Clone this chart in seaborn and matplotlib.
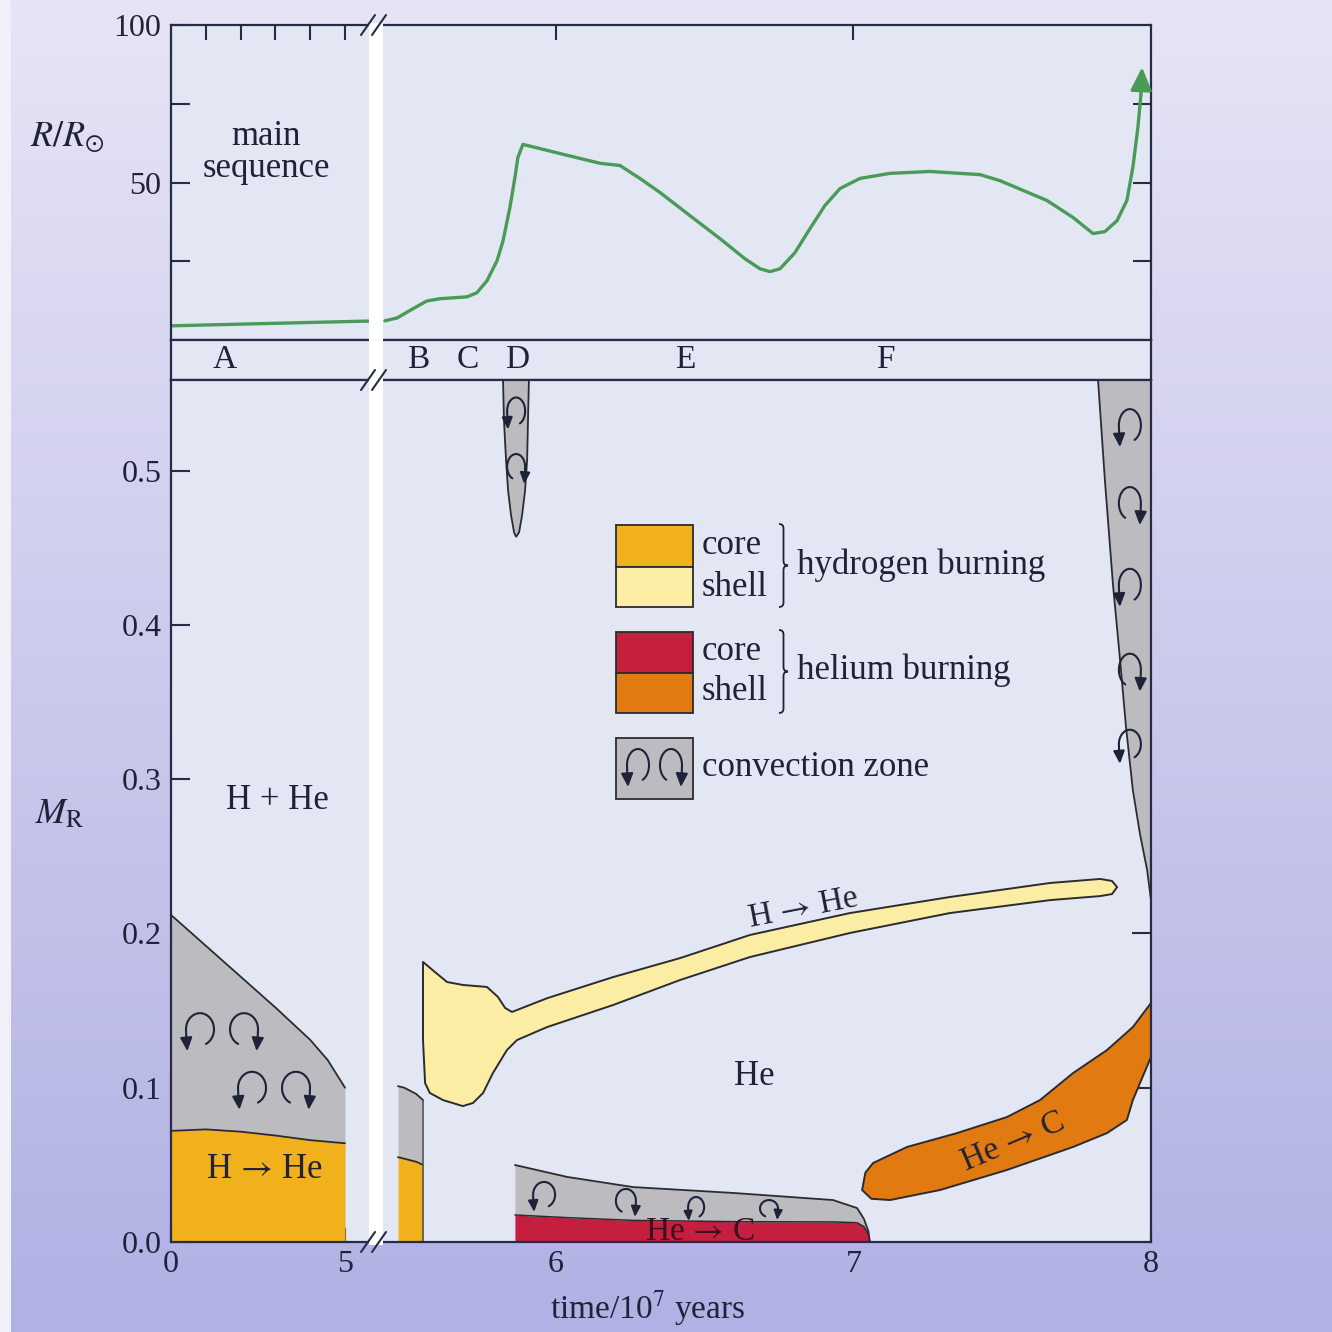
import numpy as np
import matplotlib
matplotlib.use("Agg")
import matplotlib.pyplot as plt
import seaborn as sns
from matplotlib.patches import FancyArrowPatch, Rectangle, PathPatch
from matplotlib.path import Path
from matplotlib.transforms import ScaledTranslation

# ---------------------------------------------------------------- data
# stellar radius R/R_sun against time (units of 10^7 years)
t_ms = [0.0, 1.5, 3.0, 4.5, 5.66]
r_ms = [4.5, 4.9, 5.3, 5.7, 6.0]
t_giant = [5.425, 5.466, 5.519, 5.566, 5.610, 5.701, 5.734, 5.768, 5.802, 5.822,
           5.845, 5.862, 5.872, 5.889, 6.013, 6.148, 6.215, 6.282, 6.350, 6.450,
           6.551, 6.635, 6.686, 6.719, 6.753, 6.803, 6.854, 6.904, 6.955, 7.022,
           7.123, 7.257, 7.425, 7.492, 7.650, 7.738, 7.805, 7.845, 7.886, 7.919,
           7.939, 7.956, 7.966]
r_giant = [6.1, 7.0, 9.9, 12.4, 13.1, 13.7, 15.0, 18.8, 25.2, 31.5,
           42.0, 51.6, 58.0, 62.1, 59.2, 56.1, 55.4, 51.3, 46.8, 39.5,
           32.2, 25.8, 22.6, 21.7, 22.6, 27.7, 35.4, 42.7, 48.1, 51.3,
           52.9, 53.5, 52.5, 50.6, 44.3, 38.9, 33.8, 34.4, 37.9, 44.3,
           54.8, 67.5, 77.7]
t_radius_tip, r_radius_tip = 7.970, 86.6

# evolutionary phases
phase_labels = ["A", "B", "C", "D", "E", "F"]
phase_t = [1.55, 5.536, 5.704, 5.869, 6.434, 7.106]

# main sequence: convective core and hydrogen-burning core (mass fraction M_R)
t_ms_zone = [0.0, 1.0, 2.0, 3.0, 4.0, 4.5, 5.0]
m_ms_conv = [0.212, 0.192, 0.172, 0.152, 0.131, 0.118, 0.100]
m_ms_hcore = [0.072, 0.073, 0.0715, 0.069, 0.066, 0.065, 0.064]

# end of core hydrogen burning (phase B)
t_b_zone = [5.469, 5.49, 5.51, 5.53, 5.553]
m_b_conv = [0.101, 0.100, 0.098, 0.096, 0.092]
m_b_hcore = [0.055, 0.054, 0.053, 0.052, 0.050]

# hydrogen-burning shell (outline)
h_shell_t = [5.553, 5.593, 5.634, 5.687, 5.768, 5.805, 5.829, 5.852, 5.970, 6.192,
             6.417, 6.652, 6.988, 7.324, 7.661, 7.829, 7.869, 7.886, 7.869, 7.829,
             7.661, 7.324, 6.988, 6.652, 6.417, 6.192, 5.970, 5.869, 5.835, 5.788,
             5.755, 5.721, 5.687, 5.620, 5.576, 5.560, 5.553]
h_shell_m = [0.1815, 0.175, 0.1685, 0.1666, 0.1653, 0.1588, 0.1517, 0.1491, 0.158, 0.1717,
             0.184, 0.199, 0.2132, 0.2236, 0.2327, 0.2353, 0.234, 0.230, 0.2255, 0.2242,
             0.2216, 0.2132, 0.2003, 0.1847, 0.1698, 0.1536, 0.1393, 0.1309, 0.1244, 0.1095,
             0.0966, 0.0901, 0.0881, 0.0920, 0.0966, 0.1030, 0.1309]

# helium core burning with its convective core
t_he_zone = [5.862, 6.037, 6.259, 6.595, 6.931, 7.012, 7.035, 7.050, 7.055]
m_he_conv = [0.0499, 0.0422, 0.0356, 0.0318, 0.0272, 0.0220, 0.0150, 0.0070, 0.0]
m_he_core = [0.0175, 0.0158, 0.0140, 0.0132, 0.0130, 0.0125, 0.0100, 0.0050, 0.0]

# helium-burning shell (outline)
he_shell_t = [7.029, 7.040, 7.066, 7.180, 7.348, 7.516, 7.627, 7.738, 7.852, 7.939,
              8.0, 8.0, 7.963, 7.939, 7.919, 7.852, 7.738, 7.516, 7.291, 7.123, 7.060]
he_shell_m = [0.0337, 0.0450, 0.0512, 0.0616, 0.0706, 0.0810, 0.0920, 0.1095, 0.1244, 0.1393,
              0.1549, 0.1199, 0.1030, 0.0920, 0.0791, 0.0706, 0.0616, 0.0467, 0.0337, 0.0272, 0.0280]

# brief convective zone at phase D
d_zone_t = [5.822, 5.825, 5.832, 5.839, 5.849, 5.859, 5.866, 5.876, 5.886, 5.896, 5.903, 5.906, 5.909]
d_zone_m = [0.5587, 0.533, 0.507, 0.487, 0.471, 0.460, 0.457, 0.460, 0.471, 0.487, 0.507, 0.533, 0.5587]

# deep convective envelope of the red giant
env_t = [7.822, 7.845, 7.872, 7.896, 7.916, 7.939, 7.963, 7.987, 8.0]
env_m = [0.5587, 0.4938, 0.4264, 0.3772, 0.3338, 0.2929, 0.2644, 0.2411, 0.2216]

# convection swirls: (t, M_R, width px, height px, hand)
swirl_ms = [(0.833, 0.136, 28, 38, "L"), (2.098, 0.136, 28, 38, "R"),
            (2.328, 0.098, 28, 38, "L"), (3.592, 0.098, 28, 38, "R")]
swirl_d = [(5.866, 0.537, 18, 32, "L"), (5.866, 0.501, 18, 30, "R")]
swirl_env = [(7.929, 0.5275, 22, 38, "L"), (7.929, 0.477, 22, 38, "R"),
             (7.929, 0.424, 22, 38, "L"), (7.929, 0.369, 22, 38, "R"),
             (7.929, 0.321, 22, 34, "L")]
swirl_he = [(5.960, 0.0292, 22, 30, "L"), (6.235, 0.0253, 20, 28, "R"),
            (6.471, 0.0214, 16, 24, "L"), (6.716, 0.0207, 18, 20, "R")]

# ---------------------------------------------------------------- style
sns.set_theme(style="ticks")
plt.rcParams["font.family"] = ["Liberation Serif", "DejaVu Serif"]
plt.rcParams["mathtext.fontset"] = "stix"

INK = "#1f2239"
SPINE = "#272b47"
PANEL = "#e3e7f3"
GREEN = "#4a9a58"
GRAY = "#bbbbc0"
H_CORE = "#f0b11c"
H_SHELL = "#fbeea4"
HE_CORE = "#c41f3e"
HE_SHELL = "#e27a12"
EDGE = "#2b2b30"
ARROW = r"$\,\rightarrow\,$"

W, H, DPI = 1332, 1332, 100
fig = plt.figure(figsize=(W / DPI, H / DPI), dpi=DPI)


def fbox(x0, y0, x1, y1):
    return [x0 / W, 1 - y1 / H, (x1 - x0) / W, (y1 - y0) / H]


# lavender page behind the diagram
bg = fig.add_axes([0, 0, 1, 1], zorder=-10)
c_top = np.array([231, 228, 245]) / 255
c_bot = np.array([176, 177, 228]) / 255
g = np.linspace(0, 1, 256)[:, None, None]
grad = np.repeat(c_top * (1 - g) + c_bot * g, 4, axis=1)
bg.imshow(grad, extent=[0, 1, 0, 1], aspect="auto", origin="upper")
bg.add_patch(Rectangle((0, 0), 11 / W, 1, color="#f1f0f8", lw=0))
bg.set_xlim(0, 1)
bg.set_ylim(0, 1)
bg.axis("off")

# panel geometry (pixels)
XL, XB, XR = 171, 376, 1151
Y0, Y1, Y2, Y3 = 25, 340, 380, 1242
TL_LIM = (0.0, 5.89)
TR_LIM = (5.395, 8.0)

ax_tl = fig.add_axes(fbox(XL, Y0, XB, Y1))
ax_tr = fig.add_axes(fbox(XB, Y0, XR, Y1))
ax_ml = fig.add_axes(fbox(XL, Y1, XB, Y2))
ax_mr = fig.add_axes(fbox(XB, Y1, XR, Y2))
ax_bl = fig.add_axes(fbox(XL, Y2, XB, Y3))
ax_br = fig.add_axes(fbox(XB, Y2, XR, Y3))

for ax in (ax_tl, ax_ml, ax_bl):
    ax.set_xlim(*TL_LIM)
    ax.spines["right"].set_visible(False)
for ax in (ax_tr, ax_mr, ax_br):
    ax.set_xlim(*TR_LIM)
    ax.spines["left"].set_visible(False)
for ax in (ax_tl, ax_tr, ax_ml, ax_mr, ax_bl, ax_br):
    ax.set_facecolor(PANEL)
    for s in ax.spines.values():
        s.set_color(SPINE)
        s.set_linewidth(1.6)
    ax.tick_params(direction="in", color=SPINE, width=1.5, labelsize=23,
                   labelcolor=INK, pad=7)
for ax in (ax_tl, ax_tr):
    ax.set_ylim(0, 100)
for ax in (ax_bl, ax_br):
    ax.set_ylim(0, 0.5587)
for ax in (ax_ml, ax_mr):
    ax.set_ylim(0, 1)
    ax.set_xticks([])
    ax.set_yticks([])

# ---------------------------------------------------------------- radius panel
sns.lineplot(x=t_ms, y=r_ms, ax=ax_tl, color=GREEN, lw=2.4, estimator=None, sort=False)
sns.lineplot(x=t_giant, y=r_giant, ax=ax_tr, color=GREEN, lw=2.4, estimator=None, sort=False)
ax_tr.annotate("", xy=(t_radius_tip, r_radius_tip), xytext=(t_giant[-1], r_giant[-1]),
               arrowprops=dict(arrowstyle="-|>,head_length=0.7,head_width=0.32",
                               color=GREEN, lw=2.4, mutation_scale=20,
                               shrinkA=0, shrinkB=0))

ax_tl.xaxis.set_ticks_position("top")
ax_tl.set_xticks([1, 2, 3, 4, 5])
ax_tl.tick_params(axis="x", length=11, labeltop=False, labelbottom=False)
ax_tl.set_yticks([25, 50, 75, 100])
ax_tl.set_yticklabels(["", "50", "", "100"])
ax_tl.tick_params(axis="y", length=14)

ax_tr.xaxis.set_ticks_position("top")
ax_tr.set_xticks([6, 7])
ax_tr.tick_params(axis="x", length=11, labeltop=False, labelbottom=False)
ax_tr.yaxis.set_ticks_position("right")
ax_tr.set_yticks([25, 50, 75])
ax_tr.tick_params(axis="y", length=13, labelright=False, labelleft=False)

ax_tl.text(2.73, 59.5, "main\nsequence", ha="center", va="center",
           fontsize=25, color=INK, linespacing=0.95)
for ax in (ax_tl, ax_tr):
    ax.set_xlabel("")
    ax.set_ylabel("")

# ---------------------------------------------------------------- phase band
for lab, t in zip(phase_labels, phase_t):
    ax = ax_ml if t < TL_LIM[1] - 0.4 else ax_mr
    ax.text(t, 0.5, lab, ha="center", va="center", fontsize=24, color=INK)

# ---------------------------------------------------------------- interior panel
# main sequence
ax_bl.fill_between(t_ms_zone, 0, m_ms_hcore, color=H_CORE, lw=0)
ax_bl.fill_between(t_ms_zone, m_ms_hcore, m_ms_conv, color=GRAY, lw=0)
sns.lineplot(x=t_ms_zone, y=m_ms_conv, ax=ax_bl, color=EDGE, lw=1.3, estimator=None, sort=False)
sns.lineplot(x=t_ms_zone, y=m_ms_hcore, ax=ax_bl, color=EDGE, lw=1.3, estimator=None, sort=False)

# phase B remnant of the core
ax_br.fill_between(t_b_zone, 0, m_b_hcore, color=H_CORE, lw=0)
ax_br.fill_between(t_b_zone, m_b_hcore, m_b_conv, color=GRAY, lw=0)
sns.lineplot(x=t_b_zone, y=m_b_conv, ax=ax_br, color=EDGE, lw=1.3, estimator=None, sort=False)
sns.lineplot(x=t_b_zone, y=m_b_hcore, ax=ax_br, color=EDGE, lw=1.3, estimator=None, sort=False)
ax_br.plot([t_b_zone[-1], t_b_zone[-1]], [0, m_b_conv[-1]], color="#55555e", lw=1.2)

# hydrogen shell
ax_br.fill(h_shell_t, h_shell_m, facecolor=H_SHELL, edgecolor=EDGE, lw=1.4, joinstyle="round")

# helium core burning
ax_br.fill_between(t_he_zone, 0, m_he_core, color=HE_CORE, lw=0)
ax_br.fill_between(t_he_zone, m_he_core, m_he_conv, color=GRAY, lw=0)
sns.lineplot(x=t_he_zone, y=m_he_conv, ax=ax_br, color=EDGE, lw=1.3, estimator=None, sort=False)
sns.lineplot(x=t_he_zone, y=m_he_core, ax=ax_br, color=EDGE, lw=1.1, estimator=None, sort=False)

# helium shell
ax_br.fill(he_shell_t, he_shell_m, facecolor=HE_SHELL, edgecolor=EDGE, lw=1.4, joinstyle="round")

# convective zone at D
ax_br.fill(d_zone_t, d_zone_m, facecolor=GRAY, edgecolor=EDGE, lw=1.3)

# convective envelope
ax_br.fill_betweenx(env_m, env_t, 8.0, color=GRAY, lw=0)
ax_br.plot(env_t, env_m, color=EDGE, lw=1.3)

for ax in (ax_bl, ax_br):
    ax.set_xlabel("")
    ax.set_ylabel("")


def swirl(ax, x, y, w, h, hand, lw=1.5):
    """Convection loop (an arch with a downward arrow on one leg), size in pixels."""
    ang = np.radians(np.linspace(-65, 180, 40))
    u = np.cos(ang)
    v = 0.15 + 0.85 * np.sin(ang)
    u = np.concatenate([u, [-0.97, -0.9]])
    v = np.concatenate([v, [-0.40, -1.0]])
    if hand == "R":
        u = -u
    verts = np.column_stack([u * w / 2, v * h / 2]) / DPI
    tr = fig.dpi_scale_trans + ScaledTranslation(x, y, ax.transData)
    ms = 10 * max(0.7, min(1.0, h / 36))
    ax.add_patch(FancyArrowPatch(path=Path(verts), transform=tr, color=INK, lw=lw,
                                 arrowstyle="-|>,head_length=0.8,head_width=0.36",
                                 mutation_scale=ms, zorder=4))


for s in swirl_ms:
    swirl(ax_bl, *s)
for s in swirl_d + swirl_env + swirl_he:
    swirl(ax_br, *s)

ax_bl.set_xticks([0, 1, 2, 3, 4, 5])
ax_bl.set_xticklabels(["0", "", "", "", "", "5"])
ax_bl.tick_params(axis="x", length=10, pad=6)
ax_bl.set_yticks([0.0, 0.1, 0.2, 0.3, 0.4, 0.5])
ax_bl.set_yticklabels(["0.0", "0.1", "0.2", "0.3", "0.4", "0.5"])
ax_bl.tick_params(axis="y", length=14)

ax_br.set_xticks([6, 7, 8])
ax_br.set_xticklabels(["6", "7", "8"])
ax_br.tick_params(axis="x", length=10, pad=6)
ax_br.yaxis.set_ticks_position("right")
ax_br.set_yticks([0.1, 0.2, 0.3, 0.4, 0.5])
ax_br.tick_params(axis="y", length=14, labelright=False, labelleft=False)

# region labels
ax_bl.text(3.05, 0.286, "H + He", ha="center", va="center", fontsize=25, color=INK)
ax_bl.text(2.70, 0.047, "H" + ARROW + "He", ha="center", va="center", fontsize=25, color=INK)
ax_br.text(6.667, 0.107, "He", ha="center", va="center", fontsize=25, color=INK)
ax_br.text(6.830, 0.2165, "H" + ARROW + "He", ha="center", va="center", fontsize=24,
           color=INK, rotation=11, rotation_mode="anchor")
ax_br.text(7.533, 0.0648, "He" + ARROW + "C", ha="center", va="center", fontsize=24,
           color=INK, rotation=23, rotation_mode="anchor")
ax_br.text(6.484, 0.0065, "He" + ARROW + "C", ha="center", va="center", fontsize=24,
           color="#3a1020", clip_on=True, zorder=3)

# axis titles
fig.text(67 / W, 1 - 137 / H, r"$R/R_{\odot}$", ha="center", va="center", fontsize=26, color=INK)
fig.text(60 / W, 1 - 815 / H, r"$M_{\mathrm{R}}$", ha="center", va="center", fontsize=26, color=INK)
fig.text(648 / W, 1 - 1308 / H, r"time/10$^{7}$ years", ha="center", va="center",
         fontsize=24, color=INK)

# ---------------------------------------------------------------- overlay (pixel space)
ov = fig.add_axes([0, 0, 1, 1], zorder=20)
ov.set_xlim(0, W)
ov.set_ylim(H, 0)
ov.axis("off")
ov.patch.set_alpha(0)

# axis break
ov.add_patch(Rectangle((369, 23), 14, 1222, facecolor="white", lw=0, zorder=1))
for yc in (Y0, Y2, Y3):
    for xc in (368, 379):
        ov.plot([xc - 7, xc + 7], [yc + 10, yc - 10], color=SPINE, lw=1.5, zorder=2)

# key
LX0, LX1 = 616, 693
key = [(525, 567, H_CORE), (567, 607, H_SHELL), (632, 673, HE_CORE), (673, 713, HE_SHELL),
       (738, 799, GRAY)]
for y0, y1, col in key:
    ov.add_patch(Rectangle((LX0, y0), LX1 - LX0, y1 - y0, facecolor=col,
                           edgecolor=EDGE, lw=1.3, zorder=3))
swirl(ov, 638, 768, 22, 38, "L")
swirl(ov, 671, 768, 22, 38, "R")

for txt, yy in (("core", 545), ("shell", 587), ("core", 651), ("shell", 692),
                ("convection zone", 767)):
    ov.text(702, yy, txt, ha="left", va="center", fontsize=25, color=INK, zorder=4)
ov.text(797, 565, "hydrogen burning", ha="left", va="center", fontsize=25, color=INK, zorder=4)
ov.text(797, 670, "helium burning", ha="left", va="center", fontsize=25, color=INK, zorder=4)


def brace(x, y0, y1, w=9):
    ym = (y0 + y1) / 2
    q = w / 2
    verts = [(x, y0), (x + q, y0), (x + q, y0 + q), (x + q, ym - q),
             (x + q, ym), (x + w, ym), (x + q, ym), (x + q, ym + q),
             (x + q, y1 - q), (x + q, y1), (x, y1)]
    codes = [Path.MOVETO, Path.CURVE3, Path.CURVE3, Path.LINETO,
             Path.CURVE3, Path.CURVE3, Path.CURVE3, Path.CURVE3,
             Path.LINETO, Path.CURVE3, Path.CURVE3]
    ov.add_patch(PathPatch(Path(verts, codes), fill=False, edgecolor=INK, lw=1.3, zorder=4))


brace(779, 524, 607)
brace(779, 630, 713)

fig.savefig("out.png", dpi=DPI)
